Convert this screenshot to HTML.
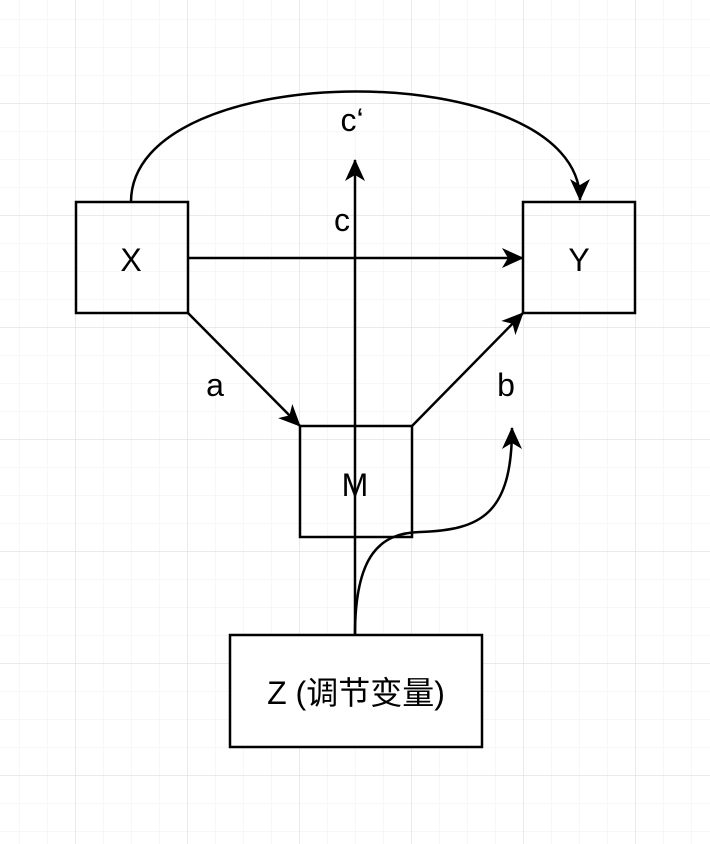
<!DOCTYPE html>
<html><head><meta charset="utf-8"><style>
html,body{margin:0;padding:0;background:#fff}
svg{display:block}
text{font-family:"Liberation Sans","Noto Sans CJK SC",sans-serif;font-size:32px;fill:#000}
</style></head><body>
<svg width="710" height="844" viewBox="0 0 710 844" xmlns="http://www.w3.org/2000/svg">
<defs>
<pattern id="minor" x="19" y="19" width="28" height="28" patternUnits="userSpaceOnUse">
<path d="M0 0H28M0 0V28" stroke="#efefef" stroke-width="1" fill="none"/>
</pattern>
<pattern id="major" x="75" y="103" width="112" height="112" patternUnits="userSpaceOnUse">
<path d="M0 0H112M0 0V112" stroke="#d6d6d6" stroke-width="1" fill="none"/>
</pattern>
<marker id="ar" viewBox="0 0 22 20" refX="21" refY="10" markerWidth="22" markerHeight="20" markerUnits="userSpaceOnUse" orient="auto">
<path d="M0,0 L22,10 L0,20 L6,10 Z" fill="#000"/>
</marker>
</defs>
<rect width="710" height="844" fill="url(#minor)"/>
<rect width="710" height="844" fill="url(#major)"/>
<g stroke="#000" stroke-width="2.5" fill="none">
<path d="M131,202 C131,55 580,55 580,200" marker-end="url(#ar)"/>
<line x1="188" y1="258" x2="523" y2="258" marker-end="url(#ar)"/>
<line x1="188" y1="313" x2="300" y2="426" marker-end="url(#ar)"/>
<line x1="412" y1="426" x2="523" y2="313" marker-end="url(#ar)"/>
<line x1="355" y1="635" x2="355" y2="160" marker-end="url(#ar)"/>
<path d="M355,635 C355,555 380,533 420,532 C480,530 512,515 512,428" marker-end="url(#ar)"/>
</g>
<g stroke="#000" stroke-width="2.5" fill="none">
<rect x="76" y="202" width="112" height="111"/>
<rect x="523" y="202" width="112" height="111"/>
<rect x="300" y="426" width="112" height="111"/>
<rect x="230" y="635" width="252" height="112" fill="#fff"/>
</g>
<text x="131" y="271" text-anchor="middle">X</text>
<text x="579" y="271" text-anchor="middle">Y</text>
<text x="355" y="496" text-anchor="middle">M</text>
<text x="356" y="704" text-anchor="middle">Z (调节变量)</text>
<text x="352" y="131" text-anchor="middle">c‘</text>
<text x="342" y="231" text-anchor="middle">c</text>
<text x="215" y="396" text-anchor="middle">a</text>
<text x="506" y="396" text-anchor="middle">b</text>
</svg>
</body></html>
